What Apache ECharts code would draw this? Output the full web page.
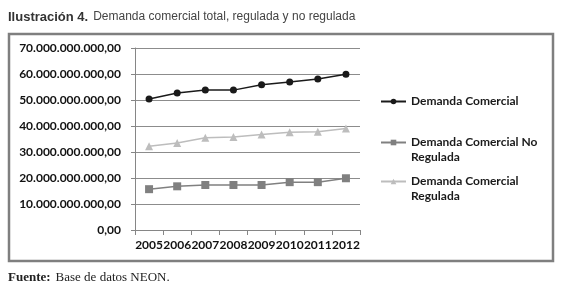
<!DOCTYPE html>
<html>
<head>
<meta charset="utf-8">
<script src="https://cdn.jsdelivr.net/npm/echarts@6/dist/echarts.min.js"></script>
<style>
  html, body { margin: 0; padding: 0; background: #fff; }
  #chart { width: 574px; height: 292px; }
</style>
</head>
<body>
<div id="chart"></div>
<script>
// años
const years = ['2005', '2006', '2007', '2008', '2009', '2010', '2011', '2012']

// demanda en kWh
const demandaComercial = [50.4e9, 52.7e9, 53.8e9, 53.8e9, 55.9e9, 56.9e9, 58.1e9, 59.9e9]
const demandaNoRegulada = [15.7e9, 16.8e9, 17.3e9, 17.3e9, 17.3e9, 18.4e9, 18.4e9, 19.9e9]
const demandaRegulada = [32.2e9, 33.5e9, 35.5e9, 35.8e9, 36.7e9, 37.6e9, 37.8e9, 39.0e9]

const seriesNames = ['Demanda Comercial', 'Demanda Comercial No Regulada', 'Demanda Comercial Regulada']
// linea vacia al inicio para que el icono quede a la altura de la primera linea
const legendLabels = ['Demanda Comercial', '\nDemanda Comercial No\nRegulada', '\nDemanda Comercial\nRegulada']

// formato 70.000.000.000,00
const fmt = v => {
  const s = Math.round(v).toString().replace(/\B(?=(\d{3})+(?!\d))/g, '.')
  return s + ',00'
}

const axisFont = 'Lato'
const chart = echarts.init(document.getElementById('chart'), null, { renderer: 'canvas' })

// una leyenda por elemento
const legendTops = [89, 115, 154]
const legends = seriesNames.map((name, i) => ({
  data: [name],
  left: 375,
  top: legendTops[i],
  itemWidth: 25,
  itemHeight: 7,
  itemGap: 0,
  formatter: () => legendLabels[i],
  textStyle: {
    fontFamily: axisFont,
    fontSize: 12,
    fontWeight: 'bold',
    color: '#1a1a1a',
    lineHeight: 15
  }
}))

chart.setOption({
  animation: false,
  backgroundColor: '#fff',
  title: [{
    left: 3,
    top: 3,
    text: '{b|Ilustración 4.} {r|Demanda comercial total, regulada y no regulada}',
    textStyle: {
      rich: {
        b: { fontFamily: 'Liberation Sans', fontSize: 13, fontWeight: 'bold', color: '#333' },
        r: { fontFamily: 'Liberation Sans', fontSize: 12, fontWeight: 'normal', color: '#444' }
      }
    }
  }, {
    left: 3,
    top: 264,
    text: '{b|Fuente:} {r|Base de datos NEON.}',
    textStyle: {
      rich: {
        b: { fontFamily: 'Liberation Serif', fontSize: 13, fontWeight: 'bold', color: '#222' },
        r: { fontFamily: 'Liberation Serif', fontSize: 13, fontWeight: 'normal', color: '#222' }
      }
    }
  }],
  graphic: [{
    type: 'rect',
    shape: { x: 9, y: 34, width: 544, height: 227 },
    style: { fill: 'none', stroke: '#7f7f7f', lineWidth: 2.5 }
  }],
  legend: legends,
  grid: { left: 135, right: 214, top: 48, bottom: 62 },
  xAxis: {
    type: 'category',
    data: years,
    boundaryGap: true,
    axisLine: { lineStyle: { color: '#868686', width: 1 } },
    axisTick: { show: true, length: 5, lineStyle: { color: '#868686' } },
    axisLabel: { fontFamily: axisFont, fontSize: 12, fontWeight: 'bold', color: '#111', margin: 9, interval: 0 }
  },
  yAxis: {
    type: 'value',
    min: 0,
    max: 70e9,
    interval: 10e9,
    axisLine: { show: true, lineStyle: { color: '#868686', width: 1 } },
    axisTick: { show: true, length: 4, lineStyle: { color: '#868686' } },
    axisLabel: { fontFamily: axisFont, fontSize: 12, fontWeight: 'bold', color: '#111', margin: 14, formatter: fmt },
    splitLine: { lineStyle: { color: '#8c8c8c', width: 1 } }
  },
  series: [{
    name: seriesNames[0],
    type: 'line',
    data: demandaComercial,
    symbol: 'circle',
    symbolSize: 7,
    lineStyle: { color: '#1a1a1a', width: 1.5 },
    itemStyle: { color: '#1a1a1a' }
  }, {
    name: seriesNames[1],
    type: 'line',
    data: demandaNoRegulada,
    symbol: 'rect',
    symbolSize: 8,
    lineStyle: { color: '#808080', width: 1.5 },
    itemStyle: { color: '#808080' }
  }, {
    name: seriesNames[2],
    type: 'line',
    data: demandaRegulada,
    symbol: 'triangle',
    symbolSize: 8,
    lineStyle: { color: '#bdbdbd', width: 1.5 },
    itemStyle: { color: '#bdbdbd' }
  }]
})
</script>
</body>
</html>
